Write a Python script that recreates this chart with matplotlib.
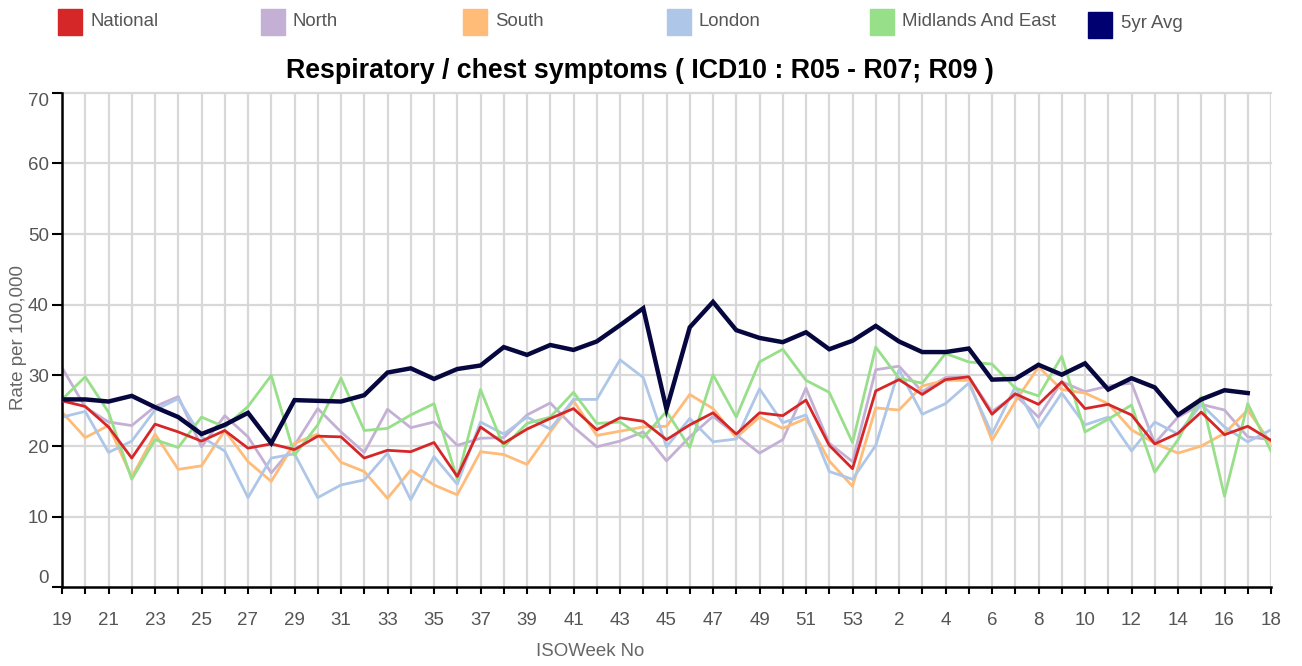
import numpy as np
import matplotlib
matplotlib.use("Agg")
import matplotlib.pyplot as plt
from matplotlib.patches import Rectangle

plt.rcParams['font.family'] = ['Liberation Sans', 'DejaVu Sans']

weeks = list(range(19, 54)) + list(range(1, 19))

national = [26.4, 25.6, 22.7, 18.3, 23.1, 22.0, 20.7, 22.2, 19.7,
            20.3, 19.5, 21.4, 21.3, 18.3, 19.4, 19.2, 20.5, 15.7,
            22.7, 20.4, 22.4, 23.9, 25.3, 22.3, 24.0, 23.5,
            20.9, 23.0, 24.7, 21.7, 24.7, 24.3, 26.5, 20.1, 16.8,
            27.8, 29.4, 27.3, 29.4, 29.8, 24.5, 27.4, 25.9, 29.1,
            25.3, 25.9, 24.4, 20.3, 21.8, 24.8, 21.6, 22.8, 20.8]
north = [31.1, 25.5, 23.4, 22.9, 25.6, 27.0, 19.9, 24.3, 21.3,
         16.2, 20.1, 25.3, 22.0, 19.1, 25.2, 22.6, 23.4, 20.1,
         21.1, 21.2, 24.4, 26.1, 22.7, 19.9, 20.7, 22.0,
         17.9, 21.3, 24.2, 21.6, 19.0, 20.9, 28.2, 20.4, 17.8,
         30.8, 31.3, 27.7, 29.7, 29.8, 24.9, 27.2, 24.1, 29.1,
         27.7, 28.5, 28.9, 20.4, 24.1, 25.9, 25.1, 21.3, 20.9]
south = [24.8, 21.2, 22.9, 15.6, 21.7, 16.7, 17.2, 22.2, 17.8,
         15.0, 20.4, 21.7, 17.7, 16.4, 12.6, 16.6, 14.5, 13.1,
         19.2, 18.8, 17.4, 22.0, 26.4, 21.5, 22.1, 22.7,
         22.8, 27.3, 25.3, 21.2, 24.1, 22.5, 23.9, 17.9, 14.3,
         25.4, 25.1, 28.5, 29.3, 29.3, 20.8, 26.3, 31.2, 28.0,
         27.5, 26.0, 22.3, 20.4, 19.0, 20.0, 21.8, 25.1, 20.4]
london = [24.1, 24.9, 19.1, 20.7, 25.1, 26.7, 21.3, 19.3, 12.7,
          18.3, 18.9, 12.7, 14.5, 15.2, 19.0, 12.4, 18.5, 14.6,
          23.4, 21.7, 24.1, 22.4, 26.6, 26.6, 32.2, 29.7,
          19.9, 23.9, 20.6, 21.0, 28.1, 23.3, 24.4, 16.4, 15.3,
          20.1, 30.8, 24.5, 26.0, 28.9, 21.7, 28.4, 22.6, 27.5,
          23.0, 24.1, 19.3, 23.4, 21.7, 25.9, 22.7, 20.6, 22.3]
midlands = [26.6, 29.8, 24.8, 15.3, 20.9, 19.8, 24.1, 22.7, 25.6,
            30.0, 18.7, 23.0, 29.6, 22.2, 22.5, 24.4, 26.0, 15.3,
            28.0, 19.9, 23.2, 24.1, 27.6, 23.2, 23.4, 21.2,
            24.9, 19.8, 30.1, 24.1, 31.9, 33.7, 29.3, 27.6, 20.5,
            34.0, 29.6, 28.9, 33.1, 31.9, 31.6, 28.2, 27.1, 32.7,
            22.0, 23.8, 25.8, 16.3, 20.9, 27.0, 12.9, 26.0, 19.3]
avg5 = [26.6, 26.6, 26.3, 27.1, 25.5, 24.1, 21.7, 23.0, 24.7,
        20.4, 26.5, 26.4, 26.3, 27.2, 30.4, 31.0, 29.5, 30.9,
        31.4, 34.0, 32.9, 34.3, 33.6, 34.8, 37.1, 39.5,
        25.2, 36.8, 40.4, 36.4, 35.3, 34.7, 36.1, 33.7, 34.9,
        37.0, 34.8, 33.3, 33.3, 33.8, 29.4, 29.5, 31.5, 30.1,
        31.7, 28.0, 29.6, 28.3, 24.4, 26.6, 27.9, 27.5, np.nan]

series_names = ["National", "North", "South", "London", "Midlands And East", "5yr Avg"]
colors = ["#d62728", "#c5b0d5", "#ffbb78", "#aec7e8", "#98df8a", "#000070"]

W, H = 1302, 666
fig = plt.figure(figsize=(W / 100, H / 100), dpi=100)
L, R, T, B = 62, 1271, 92.7, 587.4
ax = fig.add_axes([L / W, 1 - B / H, (R - L) / W, (B - T) / H])

x = np.arange(len(weeks))
grid_c = "#d8d8d8"
for xi in x:
    ax.axvline(xi, color=grid_c, lw=1.6, zorder=0)
for yv in range(10, 80, 10):
    ax.axhline(yv, color=grid_c, lw=1.6, zorder=0, clip_on=False)

lw = 2.0
ax.plot(x, north, color=colors[1], lw=lw, zorder=2)
ax.plot(x, south, color=colors[2], lw=lw, zorder=2)
ax.plot(x, london, color=colors[3], lw=lw, zorder=2)
ax.plot(x, midlands, color=colors[4], lw=lw, zorder=2)
ax.plot(x, national, color=colors[0], lw=2.0, zorder=3)
ax.plot(x, avg5, color="#07073f", lw=3.2, zorder=4, solid_joinstyle='miter')

ax.set_xlim(0, len(weeks) - 1)
ax.set_ylim(0, 70)

for s in ["top", "right"]:
    ax.spines[s].set_visible(False)
for s in ["left", "bottom"]:
    ax.spines[s].set_color("black")
    ax.spines[s].set_linewidth(1.8)

ax.set_xticks(x)
ax.set_xticklabels([str(w) if i % 2 == 0 else "" for i, w in enumerate(weeks)])
ax.tick_params(axis="x", length=5, width=1.5, color="black", pad=13,
               labelsize=13.5, labelcolor="#555555")
ax.set_yticks(range(0, 80, 10))
ax.set_yticklabels([str(v) for v in range(0, 80, 10)])
ax.tick_params(axis="y", length=7, width=1.5, color="black", pad=2.5,
               labelsize=13.5, labelcolor="#555555")
ylabels = ax.get_yticklabels()
ylabels[0].set_va("bottom")
ylabels[-1].set_va("top")

fig.text(640 / W, 1 - 71 / H, "Respiratory / chest symptoms ( ICD10 : R05 - R07; R09 )",
         ha="center", va="center", fontsize=19.3, fontweight="bold", color="black")
fig.text(590 / W, 1 - 651 / H, "ISOWeek No", ha="center", va="center",
         fontsize=13.4, color="#666666")
fig.text(19 / W, 1 - 338 / H, "Rate per 100,000", ha="center", va="center",
         rotation=90, fontsize=13.5, color="#666666")

# legend
leg_sq_x = [58, 261, 463, 667, 870, 1088]
leg_tx_x = [90, 293, 495, 698, 902, 1121]
for i, name in enumerate(series_names):
    yoff = 3 if i == 5 else 0
    sq_top = 9 + yoff
    fig.patches.append(Rectangle((leg_sq_x[i] / W, 1 - (sq_top + 26) / H), 24 / W, 26 / H,
                                 transform=fig.transFigure, color=colors[i], figure=fig))
    fig.text(leg_tx_x[i] / W, 1 - (21 + yoff) / H, name, ha="left", va="center",
             fontsize=13.4, color="#555555")

fig.savefig("out.png", dpi=100)
